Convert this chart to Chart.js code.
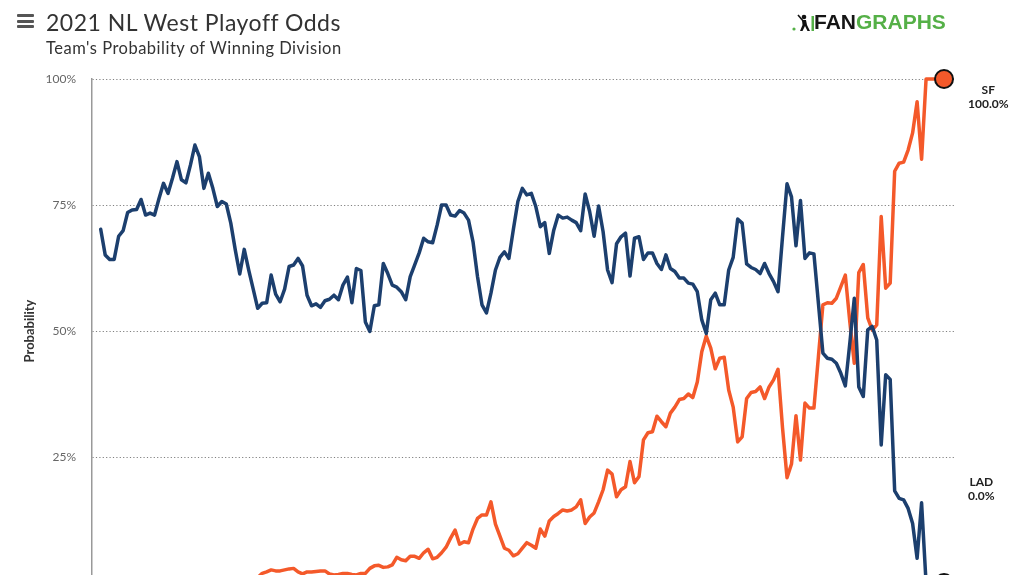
<!DOCTYPE html>
<html>
<head>
<meta charset="utf-8">
<title>2021 NL West Playoff Odds</title>
<script src="https://cdn.jsdelivr.net/npm/chart.js@4.4.1/dist/chart.umd.min.js"></script>
<style>
  body { margin: 0; width: 1024px; height: 575px; overflow: hidden; background: #fff; position: relative; font-family: Lato, "Noto Sans", sans-serif; color: #333; }
  #wrap { position: absolute; left: 0; top: 0; width: 1024px; height: 650px; }
  .menu { position: absolute; left: 17px; top: 14px; width: 17px; }
  .menu span { display: block; height: 3px; background: #555; margin-bottom: 2.5px; border-radius: 1px; }
  h1 { position: absolute; left: 46px; top: 8px; margin: 0; font-size: 23px; font-weight: 400; line-height: 28px; letter-spacing: 0.5px; color: #333; white-space: nowrap; }
  h2 { position: absolute; left: 46px; top: 38px; margin: 0; font-size: 16.5px; font-weight: 400; line-height: 20px; letter-spacing: 0.5px; color: #333; white-space: nowrap; }
  .logo { position: absolute; left: 792px; top: 10px; height: 24px; white-space: nowrap; font-family: "Liberation Sans", Arial, sans-serif; font-weight: 700; font-size: 21px; line-height: 24px; }
  .logo svg { vertical-align: -3px; }
  .logo .fan { color: #151515; }
  .logo .graphs { color: #55b047; }
</style>
</head>
<body>
<div id="wrap"><canvas id="oddsChart" width="1024" height="650"></canvas></div>
<div class="menu"><span></span><span></span><span></span></div>
<h1>2021 NL West Playoff Odds</h1>
<h2>Team's Probability of Winning Division</h2>
<div class="logo"><svg width="22" height="18" viewBox="0 0 22 18">
  <circle cx="2" cy="15" r="1.6" fill="#55b047"/>
  <circle cx="12" cy="3" r="2.3" fill="#111"/>
  <path d="M10 6 L14 6 L15 11 L18 17 L15.5 17 L13 12 L10.5 17 L8 17 L10.5 11 Z" fill="#111"/>
  <line x1="6" y1="1" x2="12" y2="8" stroke="#111" stroke-width="1.6"/>
  <rect x="19.5" y="2" width="2.5" height="15" fill="#55b047"/>
</svg><span class="fan">FAN</span><span class="graphs">GRAPHS</span></div>

<script>
// daily odds (%) of winning the division, one value per day of the season
const ladOdds = [70.2, 65.1, 64.2, 64.2, 68.8, 69.9, 73.5, 74.0, 74.1, 76.1,
  73.0, 73.4, 73.0, 76.3, 79.3, 77.3, 80.3, 83.6, 80.0, 79.4,
  82.9, 86.9, 84.6, 78.3, 81.3, 78.3, 74.7, 75.7, 75.2, 71.4,
  66.1, 61.3, 66.2, 62.1, 58.3, 54.5, 55.5, 55.6, 61.1, 57.3,
  55.8, 58.3, 62.8, 63.1, 64.4, 62.9, 57.1, 55.0, 55.4, 54.7,
  56.0, 56.3, 57.1, 56.2, 59.1, 60.7, 55.6, 62.4, 62.0, 51.8,
  49.9, 55.0, 55.2, 63.4, 61.4, 59.1, 58.7, 57.8, 56.2, 60.8,
  63.1, 65.5, 68.4, 67.7, 67.5, 71.0, 75.0, 75.0, 73.0, 72.8,
  73.9, 73.4, 72.0, 67.7, 60.8, 55.2, 53.6, 57.5, 62.1, 64.6,
  65.7, 64.4, 70.2, 75.7, 78.3, 77.0, 77.3, 74.7, 70.7, 71.5,
  65.4, 70.0, 73.0, 72.4, 72.6, 72.0, 71.5, 69.9, 77.2, 73.7,
  68.8, 74.8, 69.7, 62.1, 59.6, 67.3, 68.7, 69.4, 60.9, 68.4,
  68.7, 64.2, 65.5, 65.5, 63.4, 62.2, 65.1, 62.4, 61.8, 60.5,
  60.5, 59.5, 59.3, 57.8, 52.2, 49.5, 56.2, 57.5, 55.2, 55.2,
  62.1, 64.6, 72.2, 71.4, 63.3, 62.6, 62.2, 61.4, 63.4, 61.4,
  59.8, 57.8, 68.7, 79.2, 76.6, 66.9, 75.9, 64.4, 65.5, 65.3,
  55.5, 45.6, 44.6, 44.4, 43.6, 41.6, 39.1, 47.6, 56.5, 38.9,
  37.0, 50.2, 50.9, 48.2, 27.4, 41.3, 40.4, 18.3, 16.8, 16.5,
  14.8, 11.8, 4.9, 15.9, 0, 0, 0, 0, 0];

const sfOdds = [0.9, 0.7, 0.6, 0.8, 0.9, 0.7, 0.6, 0.5, 0.6, 0.5,
  0.6, 0.7, 0.6, 0.5, 0.4, 0.5, 0.4, 0.4, 0.5, 0.5,
  0.4, 0.3, 0.4, 0.6, 0.5, 0.6, 0.8, 0.7, 0.8, 1.0,
  1.1, 1.0, 0.9, 1.1, 1.2, 1.1, 1.9, 2.2, 2.6, 2.4,
  2.4, 2.6, 2.8, 2.9, 2.2, 1.8, 2.2, 2.2, 2.3, 2.4,
  2.4, 1.8, 1.6, 1.7, 1.9, 1.9, 1.7, 1.6, 1.9, 1.9,
  2.9, 3.4, 3.5, 3.1, 3.2, 3.6, 5.1, 4.6, 4.4, 5.3,
  5.3, 4.9, 6.0, 6.7, 4.8, 5.1, 6.0, 7.1, 8.9, 10.5,
  7.7, 8.2, 8.0, 10.7, 12.8, 13.5, 13.5, 16.1, 11.7, 9.3,
  6.9, 6.5, 5.4, 5.8, 6.9, 8.0, 7.5, 6.9, 10.7, 9.3,
  12.3, 13.2, 13.8, 14.5, 14.3, 14.5, 15.1, 16.5, 11.8, 13.1,
  13.9, 16.1, 18.5, 22.4, 21.6, 17.1, 18.5, 19.1, 24.1, 19.9,
  21.1, 28.4, 29.8, 30.0, 33.1, 32.0, 31.0, 33.7, 34.9, 36.4,
  36.6, 37.5, 36.8, 39.9, 45.9, 49.0, 46.6, 42.5, 44.6, 44.8,
  38.3, 34.9, 28.0, 29.0, 36.6, 37.8, 38.0, 38.9, 36.6, 38.9,
  40.3, 42.4, 30.8, 20.9, 23.6, 33.2, 24.4, 35.7, 34.7, 34.7,
  44.9, 55.2, 55.6, 55.5, 56.5, 58.8, 61.1, 51.8, 43.6, 61.6,
  63.2, 52.6, 50.2, 51.2, 72.7, 58.5, 59.5, 81.7, 83.3, 83.5,
  85.9, 89.3, 95.5, 84.1, 100, 100, 100, 100, 100];

const days = ladOdds.map((_, i) => i);
const yTicks = [0, 25, 50, 75, 100];

const ladColor = '#1c3f6e';
const sfColor = '#f4592a';

function toPoints(values) {
  return values.map((v, i) => ({ x: days[i], y: v }));
}

// "SF / 100.0%" style labels to the right of each line's last point
const endLabels = {
  id: 'endLabels',
  afterDatasetsDraw(chart, args, opts) {
    const { ctx, chartArea } = chart;
    const mid = (chartArea.top + chartArea.bottom) / 2;
    ctx.save();
    ctx.font = 'bold 12px Lato';
    ctx.fillStyle = '#222';
    ctx.textAlign = 'center';
    ctx.textBaseline = 'middle';
    chart.data.datasets.forEach((ds, i) => {
      const pts = chart.getDatasetMeta(i).data;
      const last = pts[pts.length - 1];
      const lines = [ds.label, ds.data[ds.data.length - 1].y.toFixed(1) + '%'];
      const w = Math.max(...lines.map(t => ctx.measureText(t).width));
      const cx = opts.left + w / 2;
      const top = last.y > mid ? last.y - 101 : last.y + 11;
      lines.forEach((t, k) => ctx.fillText(t, cx, top + k * 14.5));
    });
    ctx.restore();
  }
};

const lastIdx = days.length - 1;
function lineSet(label, values, color) {
  return {
    label: label,
    data: toPoints(values),
    borderColor: color,
    backgroundColor: color,
    borderWidth: 3.5,
    tension: 0,
    borderJoinStyle: 'round',
    borderCapStyle: 'round',
    pointRadius: ctx => ctx.dataIndex === lastIdx ? 9 : 0,
    pointBorderColor: '#111',
    pointBorderWidth: 2,
    pointBackgroundColor: color,
    clip: false
  };
}

new Chart(document.getElementById('oddsChart').getContext('2d'), {
  type: 'line',
  data: {
    datasets: [
      lineSet('LAD', ladOdds, ladColor),
      lineSet('SF', sfOdds, sfColor)
    ]
  },
  options: {
    responsive: false,
    animation: false,
    events: [],
    layout: { padding: { left: 0, top: 79, right: 69, bottom: 67 } },
    plugins: {
      legend: { display: false },
      tooltip: { enabled: false },
      endLabels: { left: 968 }
    },
    scales: {
      x: { type: 'linear', display: false, min: -1.94, max: 190.45 },
      y: {
        min: 0,
        max: 100,
        afterFit: scale => { scale.width = 92; },
        afterBuildTicks: scale => { scale.ticks = yTicks.map(v => ({ value: v })); },
        ticks: {
          padding: 16,
          color: '#666',
          font: { family: 'Lato', size: 12 },
          callback: v => v + '%'
        },
        grid: { color: '#808080', lineWidth: 1, drawTicks: false },
        border: { color: '#999', width: 1.5, dash: [1.2, 2.2] },
        title: {
          display: true,
          text: 'Probability',
          color: '#333',
          font: { family: 'Lato', size: 13, weight: 'bold' },
          padding: { top: 22, bottom: 0 }
        }
      }
    }
  },
  plugins: [endLabels]
});
</script>
</body>
</html>
